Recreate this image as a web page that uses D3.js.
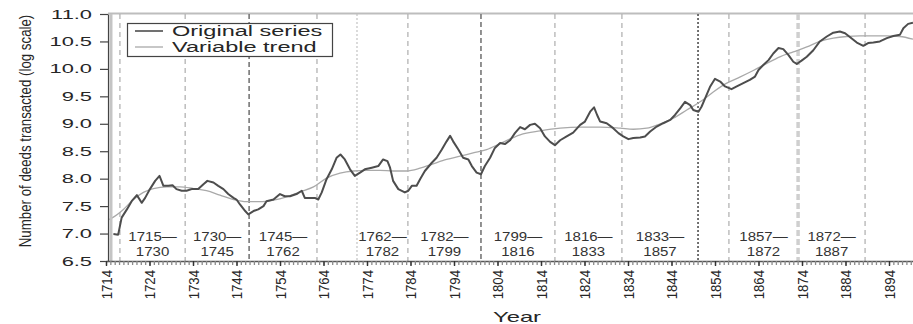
<!DOCTYPE html>
<html>
<head>
<meta charset="utf-8">
<script src="https://cdn.jsdelivr.net/npm/d3@7"></script>
<style>
  html, body { margin: 0; padding: 0; background: #fff; }
  svg { display: block; font-family: "Liberation Sans", Arial, Helvetica, sans-serif; }
</style>
</head>
<body>
<svg id="chart" width="913" height="324"></svg>
<script>
// Deeds transacted per year (natural log), original series
const seriesYear = [
  1715.7, 1716.8, 1717.6, 1718.8, 1719.9, 1721.1, 1722.2, 1723.0, 1724.1, 1725.3,
  1726.3, 1727.2, 1728.3, 1729.3, 1730.2, 1731.4, 1732.5, 1733.7, 1735.2, 1736.4,
  1737.3, 1738.7, 1739.8, 1741.0, 1742.1, 1743.3, 1744.0, 1744.8, 1746.0, 1746.7,
  1747.9, 1749.0, 1750.2, 1750.9, 1752.5, 1754.0, 1755.1, 1756.3, 1757.8, 1759.0,
  1759.7, 1760.9, 1762.0, 1762.8, 1763.6, 1764.7, 1765.9, 1767.0, 1767.9, 1768.9,
  1770.1, 1771.2, 1772.4, 1773.5, 1775.1, 1776.6, 1777.7, 1778.7, 1779.3, 1780.0,
  1781.2, 1782.7, 1783.5, 1784.3, 1785.4, 1786.2, 1787.3, 1788.9, 1790.0, 1791.2,
  1792.3, 1793.1, 1793.8, 1795.0, 1796.1, 1797.3, 1798.1, 1799.2, 1800.2, 1801.1,
  1802.3, 1803.4, 1804.6, 1805.7, 1806.9, 1808.0, 1809.2, 1810.3, 1811.5, 1812.6,
  1813.8, 1814.9, 1816.1, 1817.2, 1818.4, 1819.9, 1821.4, 1823.0, 1824.1, 1825.3,
  1826.2, 1826.9, 1827.6, 1829.1, 1830.6, 1831.8, 1832.9, 1834.1, 1835.2, 1836.8,
  1837.9, 1839.1, 1840.6, 1842.1, 1843.7, 1844.8, 1846.0, 1847.1, 1848.3, 1849.0,
  1850.2, 1850.9, 1851.7, 1852.9, 1854.0, 1855.2, 1856.3, 1857.8, 1859.0, 1860.5,
  1862.0, 1863.2, 1864.0, 1865.1, 1866.3, 1867.4, 1868.6, 1869.7, 1870.9, 1872.0,
  1872.8, 1873.9, 1875.1, 1876.6, 1878.1, 1879.7, 1881.2, 1882.7, 1883.9, 1885.0,
  1886.6, 1888.1, 1889.2, 1890.4, 1891.9, 1893.5, 1895.0, 1896.5, 1897.3, 1898.4,
  1899.5
];
const seriesValue = [
  6.99, 6.98, 7.29, 7.44, 7.59, 7.70, 7.56, 7.65, 7.81, 7.96,
  8.05, 7.87, 7.87, 7.88, 7.81, 7.78, 7.78, 7.81, 7.81, 7.90,
  7.96, 7.93, 7.87, 7.81, 7.72, 7.65, 7.62, 7.53, 7.41, 7.35,
  7.41, 7.44, 7.50, 7.59, 7.62, 7.72, 7.68, 7.68, 7.72, 7.78,
  7.65, 7.65, 7.65, 7.62, 7.75, 7.99, 8.17, 8.38, 8.44, 8.35,
  8.17, 8.05, 8.11, 8.17, 8.20, 8.23, 8.35, 8.32, 8.20, 7.96,
  7.81, 7.75, 7.78, 7.87, 7.87, 7.99, 8.14, 8.29, 8.38, 8.53,
  8.68, 8.78, 8.68, 8.53, 8.38, 8.35, 8.23, 8.11, 8.08, 8.23,
  8.38, 8.56, 8.65, 8.63, 8.70, 8.83, 8.94, 8.90, 8.98, 9.00,
  8.92, 8.77, 8.67, 8.61, 8.70, 8.77, 8.84, 8.98, 9.04, 9.22,
  9.30, 9.16, 9.04, 9.01, 8.92, 8.83, 8.77, 8.72, 8.74, 8.75,
  8.77, 8.86, 8.95, 9.01, 9.07, 9.16, 9.28, 9.40, 9.34, 9.25,
  9.22, 9.31, 9.46, 9.68, 9.82, 9.77, 9.68, 9.63, 9.68, 9.74,
  9.80, 9.86, 9.98, 10.07, 10.16, 10.28, 10.38, 10.36, 10.25, 10.13,
  10.09, 10.15, 10.22, 10.34, 10.50, 10.59, 10.66, 10.68, 10.65, 10.58,
  10.48, 10.42, 10.47, 10.48, 10.50, 10.56, 10.60, 10.62, 10.74, 10.82,
  10.84
];

// Smooth variable trend
const trendYear = [
  1714.3, 1715.3, 1718.0, 1720.3, 1722.6, 1724.9, 1728.0, 1731.0, 1734.1, 1737.1,
  1740.2, 1743.3, 1746.3, 1749.4, 1752.5, 1755.5, 1758.6, 1761.7, 1764.7, 1767.8,
  1770.9, 1773.9, 1777.0, 1780.0, 1783.1, 1786.2, 1789.2, 1792.3, 1795.4, 1798.4,
  1801.5, 1804.6, 1809.2, 1813.8, 1818.4, 1823.0, 1827.6, 1832.2, 1835.2, 1838.3,
  1841.4, 1844.4, 1847.5, 1850.6, 1853.6, 1856.7, 1859.7, 1862.8, 1865.9, 1868.9,
  1872.0, 1875.1, 1878.1, 1881.2, 1884.3, 1887.3, 1890.4, 1893.5, 1896.5, 1899.5
];
const trendValue = [
  7.24, 7.28, 7.44, 7.62, 7.75, 7.82, 7.85, 7.85, 7.82, 7.78,
  7.70, 7.62, 7.58, 7.58, 7.61, 7.67, 7.76, 7.85, 8.01, 8.10,
  8.14, 8.15, 8.15, 8.14, 8.14, 8.19, 8.27, 8.35, 8.41, 8.47,
  8.53, 8.64, 8.80, 8.87, 8.92, 8.94, 8.94, 8.92, 8.90, 8.92,
  9.00, 9.10, 9.25, 9.40, 9.58, 9.74, 9.85, 9.97, 10.10, 10.22,
  10.31, 10.40, 10.50, 10.56, 10.59, 10.60, 10.60, 10.60, 10.59, 10.54
];

// Axis ticks
const yTicks = [6.5, 7.0, 7.5, 8.0, 8.5, 9.0, 9.5, 10.0, 10.5, 11.0];
const xTicks = [1714, 1724, 1734, 1744, 1754, 1764, 1774, 1784, 1794, 1804,
                1814, 1824, 1834, 1844, 1854, 1864, 1874, 1884, 1894];

// Period boundaries and the style of each marker line
const boundaryYear = [1717.2, 1732.2, 1746.9, 1762.5, 1771.7, 1783.4, 1800.2,
                      1817.2, 1832.6, 1850.1, 1857.2, 1873.1, 1888.5];
const boundaryStyle = ["light", "light", "dark", "light", "fine", "light", "dark",
                       "light", "light", "dot", "light", "thick", "light"];

// Period labels and the boundaries (by index) that enclose them
const periodFrom = ["1715", "1730", "1745", "1762", "1782", "1799", "1816", "1833", "1857", "1872"];
const periodTo   = ["1730", "1745", "1762", "1782", "1799", "1816", "1833", "1857", "1872", "1887"];
const periodLeft  = [0, 1, 2, 4, 5, 6, 7, 8, 10, 11];
const periodRight = [1, 2, 3, 5, 6, 7, 8, 9, 11, 12];

const legendLabels = ["Original series", "Variable trend"];

const lineStyles = {
  light: { stroke: "#b3b3b3", width: 1.3, dash: "5,4" },
  fine:  { stroke: "#bdbdbd", width: 1.1, dash: "2,2" },
  dark:  { stroke: "#777",    width: 1.6, dash: "5,3" },
  dot:   { stroke: "#5a5a5a", width: 1.7, dash: "2,2" },
  thick: { stroke: "#cfcfcf", width: 3.5, dash: "6,3" }
};

const svg = d3.select("#chart");
const plotLeft = 108, plotRight = 913, plotTop = 14, plotBottom = 261;

const x = d3.scaleLinear().domain([1714, 1900]).range([106, 106 + 186 * 4.35]);
const y = d3.scaleLinear().domain([6.5, 11]).range([plotBottom, plotTop]);

svg.append("defs").append("clipPath").attr("id", "plot-clip")
  .append("rect").attr("x", plotLeft).attr("y", plotTop - 2)
  .attr("width", plotRight - plotLeft).attr("height", plotBottom - plotTop + 2);

// Top frame line
svg.append("line")
  .attr("x1", plotLeft).attr("x2", plotRight).attr("y1", plotTop - 0.5).attr("y2", plotTop - 0.5)
  .attr("stroke", "#bdbdbd").attr("stroke-width", 2);

// Period boundary markers
svg.append("g").selectAll("line").data(boundaryYear).join("line")
  .attr("x1", d => x(d)).attr("x2", d => x(d))
  .attr("y1", plotTop).attr("y2", plotBottom)
  .attr("stroke", (d, i) => lineStyles[boundaryStyle[i]].stroke)
  .attr("stroke-width", (d, i) => lineStyles[boundaryStyle[i]].width)
  .attr("stroke-dasharray", (d, i) => lineStyles[boundaryStyle[i]].dash);

// Period labels
const periods = svg.append("g").attr("fill", "#333").attr("font-size", 12);
periodFrom.forEach((from, i) => {
  const cx = (x(boundaryYear[periodLeft[i]]) + x(boundaryYear[periodRight[i]])) / 2;
  periods.append("text")
    .attr("transform", `translate(${cx},241) scale(1.25,1)`)
    .attr("text-anchor", "middle")
    .text(from + "\u2014");
  periods.append("text")
    .attr("transform", `translate(${cx},256) scale(1.25,1)`)
    .attr("text-anchor", "middle")
    .text(periodTo[i]);
});

// Lines
const plot = svg.append("g").attr("clip-path", "url(#plot-clip)");
const lineGen = d3.line().x(d => x(d[0])).y(d => y(d[1])).curve(d3.curveLinear);
const trendGen = d3.line().x(d => x(d[0])).y(d => y(d[1])).curve(d3.curveMonotoneX);

plot.append("path")
  .datum(trendYear.map((t, i) => [t, trendValue[i]]))
  .attr("fill", "none").attr("stroke", "#a9a9a9").attr("stroke-width", 1.3)
  .attr("d", trendGen);

plot.append("path")
  .datum(seriesYear.map((t, i) => [t, seriesValue[i]]))
  .attr("fill", "none").attr("stroke", "#4d4d4d").attr("stroke-width", 2)
  .attr("stroke-linejoin", "round")
  .attr("d", lineGen);

// Left axis
svg.append("line")
  .attr("x1", plotLeft + 3).attr("x2", plotLeft + 3).attr("y1", plotTop).attr("y2", plotBottom)
  .attr("stroke", "#c4c4c4").attr("stroke-width", 3);

const yAxis = svg.append("g").attr("transform", `translate(${plotLeft},0)`)
  .call(d3.axisLeft(y).tickValues(yTicks).tickFormat(d3.format(".1f"))
    .tickSize(8).tickSizeOuter(0));
yAxis.select(".domain").attr("stroke", "#444").attr("stroke-width", 1.2);
yAxis.selectAll(".tick line").attr("stroke", "#444").attr("stroke-width", 1.2);
yAxis.selectAll(".tick text")
  .attr("font-size", 12.5).attr("fill", "#262626")
  .attr("font-family", null)
  .attr("x", -16 / 1.75).attr("transform", "scale(1.75,1)");

// Bottom axis: yearly minor ticks and decade labels
const minorYears = d3.range(1714, 1901, 1);
const xMinor = svg.append("g").attr("transform", `translate(0,${plotBottom})`)
  .call(d3.axisBottom(x).tickValues(minorYears).tickFormat("").tickSize(4).tickSizeOuter(0));
xMinor.select(".domain").attr("stroke", "#555").attr("stroke-width", 1.3);
xMinor.selectAll(".tick line").attr("stroke", "#8a8a8a").attr("stroke-width", 1.3);

const xAxis = svg.append("g").attr("transform", `translate(0,${plotBottom})`)
  .call(d3.axisBottom(x).tickValues(xTicks).tickFormat(d3.format("d")).tickSize(5).tickSizeOuter(0));
xAxis.select(".domain").remove();
xAxis.selectAll(".tick line").attr("stroke", "#333").attr("stroke-width", 1.4);
xAxis.selectAll(".tick text")
  .attr("font-size", 13.2).attr("fill", "#262626")
  .attr("font-family", null)
  .attr("text-anchor", "end")
  .attr("x", -9).attr("y", 0).attr("dy", "0.36em")
  .attr("transform", "scale(1.12,1) rotate(-90)");

// Axis titles
svg.append("text")
  .attr("transform", "translate(31,131) scale(1.23,1) rotate(-90)")
  .attr("text-anchor", "middle").attr("font-size", 13.3).attr("fill", "#262626")
  .text("Number of deeds transacted (log scale)");

svg.append("text")
  .attr("transform", "translate(517,322) scale(1.7,1)")
  .attr("text-anchor", "middle").attr("font-size", 14).attr("fill", "#262626")
  .text("Year");

// Legend
const legend = svg.append("g");
legend.append("rect")
  .attr("x", 127.5).attr("y", 23.5).attr("width", 205).attr("height", 33)
  .attr("fill", "#fff").attr("stroke", "#444").attr("stroke-width", 1.2);
const legendStroke = ["#4d4d4d", "#a9a9a9"];
const legendWidth = [1.6, 1.3];
legendLabels.forEach((label, i) => {
  const ly = 31 + i * 16;
  legend.append("line")
    .attr("x1", 135).attr("x2", 163).attr("y1", ly).attr("y2", ly)
    .attr("stroke", legendStroke[i]).attr("stroke-width", legendWidth[i]);
  legend.append("text")
    .attr("transform", `translate(172,${ly + 5}) scale(1.68,1)`)
    .attr("font-size", 14).attr("fill", "#262626")
    .text(label);
});
</script>
</body>
</html>
